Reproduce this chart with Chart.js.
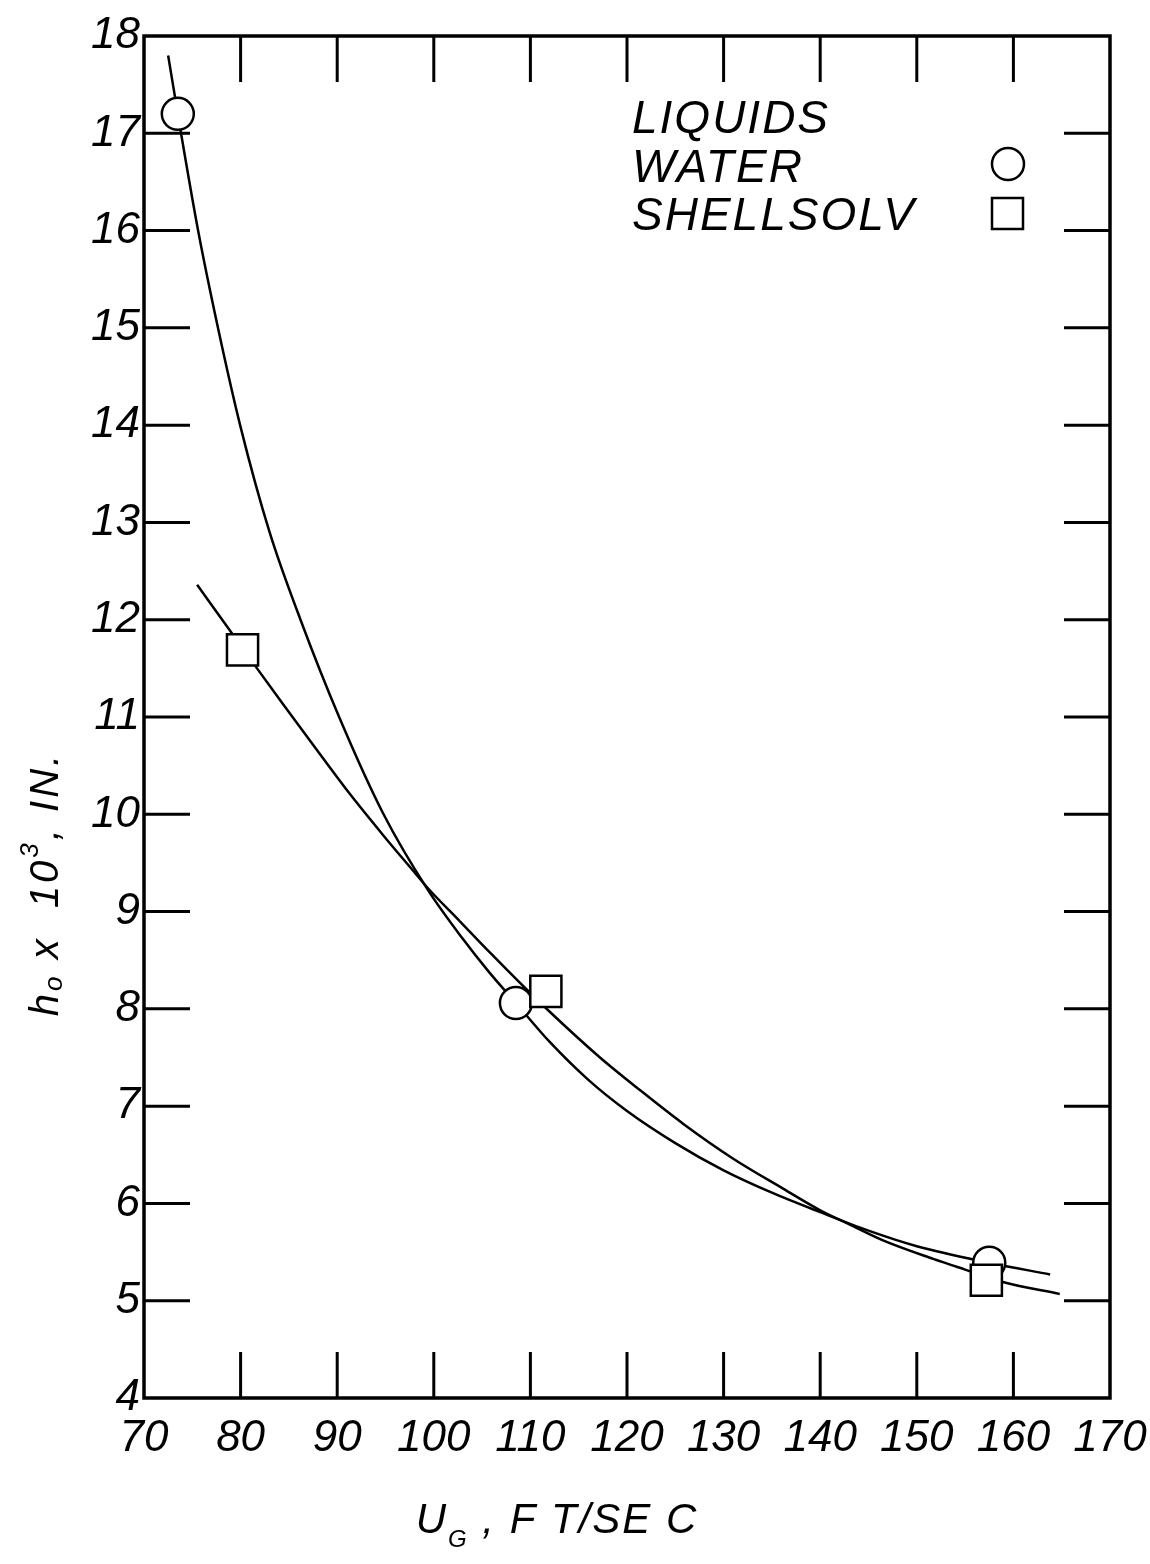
<!DOCTYPE html>
<html>
<head>
<meta charset="utf-8">
<title>h0 vs UG</title>
<script src="https://cdn.jsdelivr.net/npm/chart.js@4.4.1/dist/chart.umd.min.js"></script>
<style>
  body { margin: 0; background: #fff; }
  #wrap { width: 1150px; height: 1564px; position: relative; }
</style>
</head>
<body>
<div id="wrap"><canvas id="chart"></canvas></div>
<script>
// axis ticks
const xTicks = [70, 80, 90, 100, 110, 120, 130, 140, 150, 160, 170];
const yTicks = [4, 5, 6, 7, 8, 9, 10, 11, 12, 13, 14, 15, 16, 17, 18];

// measured points
const waterX = [73.5, 108.5, 157.5];
const waterY = [17.2, 8.06, 5.39];
const shellX = [80.2, 111.6, 157.2];
const shellY = [11.69, 8.18, 5.21];

// hand-drawn curves
const waterCurveX = [72.5, 73.8, 75.6, 77.7, 80.0, 83.0, 86.2, 90.2, 94.8, 99.4,
  103.0, 105.7, 108.5, 112.0, 116.0, 120.0, 125.0, 130.0, 135.0, 140.0, 145.0, 150.0, 157.5, 163.8];
const waterCurveY = [17.80, 17.02, 16.00, 14.98, 13.98, 12.90, 12.00, 11.00, 10.00, 9.22,
  8.72, 8.38, 8.06, 7.66, 7.27, 6.95, 6.62, 6.34, 6.11, 5.91, 5.72, 5.56, 5.39, 5.27];

const shellCurveX = [75.5, 79.1, 81.7, 84.4, 87.9, 91.3, 94.8, 98.2, 99.3, 102.7, 105.8, 108.9, 112.0, 117.2, 121.4,
  125.8, 131.0, 136.2, 140.0, 142.7, 146.5, 151.7, 155.0, 159.0, 164.8];
const shellCurveY = [12.36, 11.86, 11.50, 11.13, 10.66, 10.21, 9.78, 9.38, 9.25, 8.90, 8.58, 8.27, 7.97, 7.50, 7.16,
  6.82, 6.46, 6.15, 5.93, 5.80, 5.62, 5.43, 5.32, 5.19, 5.07];

const FONT = "'Liberation Sans', Arial, sans-serif";
const TICK_LEN = 46;

const toPoints = (xs, ys) => xs.map((x, i) => ({ x, y: ys[i] }));

// inward ticks on all four sides + box frame
const frameTicks = {
  id: 'frameTicks',
  beforeDatasetsDraw(chart) {
    const { ctx, chartArea: a, scales: { x, y } } = chart;
    ctx.save();
    ctx.strokeStyle = '#000';
    ctx.lineWidth = 3;
    ctx.beginPath();
    x.ticks.forEach(t => {
      if (t.value <= x.min || t.value >= x.max) return;
      const px = x.getPixelForValue(t.value);
      ctx.moveTo(px, a.bottom);
      ctx.lineTo(px, a.bottom - TICK_LEN);
      ctx.moveTo(px, a.top);
      ctx.lineTo(px, a.top + TICK_LEN);
    });
    y.ticks.forEach(t => {
      if (t.value <= y.min || t.value >= y.max) return;
      const py = y.getPixelForValue(t.value);
      ctx.moveTo(a.left, py);
      ctx.lineTo(a.left + TICK_LEN, py);
      ctx.moveTo(a.right, py);
      ctx.lineTo(a.right - TICK_LEN, py);
    });
    ctx.stroke();
    ctx.lineWidth = 3.5;
    ctx.strokeRect(a.left, a.top, a.right - a.left, a.bottom - a.top);
    ctx.restore();
  }
};

function drawPieces(ctx, pieces, cx, baseline) {
  let total = 0;
  pieces.forEach(p => {
    ctx.font = `italic ${p.size}px ${FONT}`;
    p.w = ctx.measureText(p.text).width;
    total += p.w;
  });
  let x = cx - total / 2;
  pieces.forEach(p => {
    ctx.font = `italic ${p.size}px ${FONT}`;
    ctx.fillText(p.text, x, baseline + (p.dy || 0));
    x += p.w;
  });
}

// axis titles and the key in the upper right
const annotations = {
  id: 'annotations',
  afterDraw(chart) {
    const { ctx, chartArea: a } = chart;
    ctx.save();
    ctx.fillStyle = '#000';
    ctx.strokeStyle = '#000';
    ctx.textAlign = 'left';
    ctx.textBaseline = 'alphabetic';

    // x title
    ctx.letterSpacing = '2px';
    drawPieces(ctx, [
      { text: 'U', size: 42 },
      { text: 'G', size: 24, dy: 14 },
      { text: ' , F T/SE C', size: 42 }
    ], a.left + 413, a.bottom + 135);

    // y title
    ctx.letterSpacing = '3px';
    ctx.save();
    ctx.translate(58, a.top + 848);
    ctx.rotate(-Math.PI / 2);
    drawPieces(ctx, [
      { text: 'h', size: 40 },
      { text: 'o', size: 26, dy: 4 },
      { text: ' x  10', size: 40 },
      { text: '3', size: 26, dy: -20 },
      { text: ', IN.', size: 40 }
    ], 0, 0);
    ctx.restore();

    // key
    ctx.font = `italic 46px ${FONT}`;
    ctx.letterSpacing = '2px';
    const kx = a.left + 488;
    ctx.fillText('LIQUIDS', kx, a.top + 97);
    ctx.fillText('WATER', kx, a.top + 146);
    ctx.fillText('SHELLSOLV', kx, a.top + 194);

    ctx.lineWidth = 2.5;
    ctx.fillStyle = '#fff';
    ctx.beginPath();
    ctx.arc(a.right - 102, a.top + 128, 16, 0, Math.PI * 2);
    ctx.fill();
    ctx.stroke();
    ctx.beginPath();
    ctx.rect(a.right - 118, a.top + 162, 31, 31);
    ctx.fill();
    ctx.stroke();
    ctx.restore();
  }
};

const curveStyle = {
  showLine: true,
  pointRadius: 0,
  pointHoverRadius: 0,
  borderColor: '#000',
  borderWidth: 2.5,
  cubicInterpolationMode: 'monotone',
  fill: false
};

new Chart(document.getElementById('chart'), {
  type: 'scatter',
  data: {
    datasets: [
      {
        label: 'Shellsolv',
        data: toPoints(shellX, shellY),
        pointStyle: 'rect',
        pointRadius: 22,
        pointBorderWidth: 2.5,
        pointBorderColor: '#000',
        pointBackgroundColor: '#fff',
        order: 0
      },
      {
        label: 'Water',
        data: toPoints(waterX, waterY),
        pointStyle: 'circle',
        pointRadius: 16,
        pointBorderWidth: 2.5,
        pointBorderColor: '#000',
        pointBackgroundColor: '#fff',
        order: 1
      },
      { label: 'Water curve', data: toPoints(waterCurveX, waterCurveY), ...curveStyle, order: 2 },
      { label: 'Shellsolv curve', data: toPoints(shellCurveX, shellCurveY), ...curveStyle, order: 3 }
    ]
  },
  options: {
    responsive: true,
    maintainAspectRatio: false,
    animation: false,
    layout: { padding: { top: 36, right: 40, left: 0, bottom: 0 } },
    plugins: {
      legend: { display: false },
      tooltip: { enabled: false }
    },
    scales: {
      x: {
        type: 'linear',
        min: 70,
        max: 170,
        afterBuildTicks: s => { s.ticks = xTicks.map(v => ({ value: v })); },
        afterFit: s => { s.height = 166; s.paddingLeft = 0; s.paddingRight = 0; },
        grid: { display: false, drawTicks: false },
        border: { display: false },
        ticks: {
          color: '#000',
          padding: 14,
          maxRotation: 0,
          font: { family: FONT, size: 44, style: 'italic' }
        }
      },
      y: {
        type: 'linear',
        min: 4,
        max: 18,
        afterBuildTicks: s => { s.ticks = yTicks.map(v => ({ value: v })); },
        afterFit: s => { s.width = 144; s.paddingTop = 0; s.paddingBottom = 0; },
        grid: { display: false, drawTicks: false },
        border: { display: false },
        ticks: {
          color: '#000',
          padding: 4,
          font: { family: FONT, size: 44, style: 'italic' }
        }
      }
    }
  },
  plugins: [frameTicks, annotations]
});
</script>
</body>
</html>
